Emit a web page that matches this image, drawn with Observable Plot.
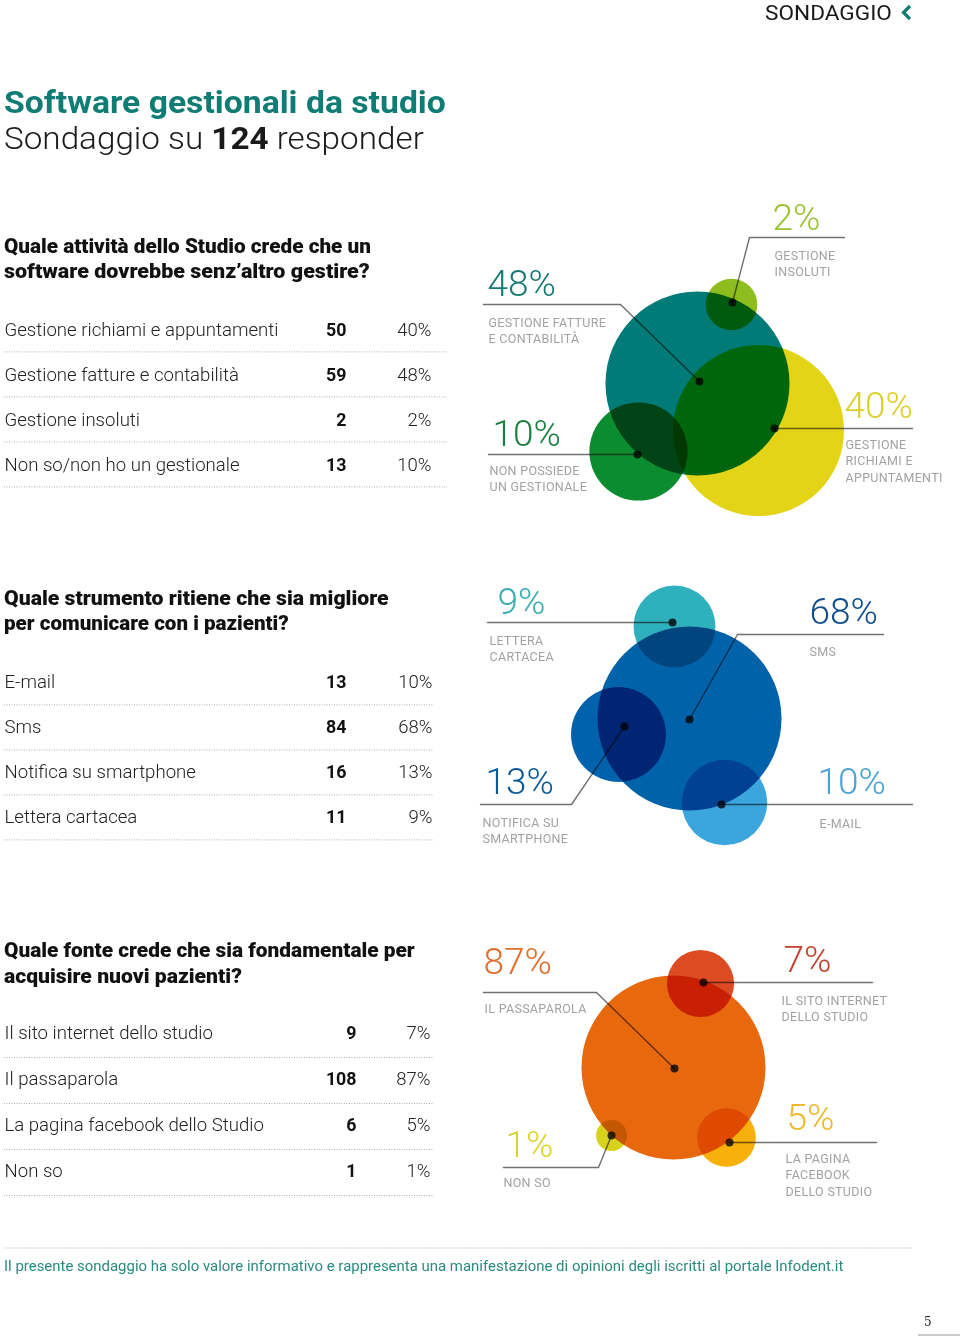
<!DOCTYPE html>
<html><head><meta charset="utf-8">
<script src="https://cdn.jsdelivr.net/npm/d3@7"></script>
<script src="https://cdn.jsdelivr.net/npm/@observablehq/plot@0.6"></script>
<style>
html,body{margin:0;padding:0;background:#fff;}
#page{position:relative;width:960px;height:1339px;overflow:hidden;font-family:Roboto,"Noto Sans",sans-serif;}
.box{position:absolute;}
.box svg{display:block;background:transparent;}
.bub g[aria-label="dot"] circle, .bub g[aria-label="line"] path{mix-blend-mode:multiply;}
.bub svg > g:last-child text{letter-spacing:0.3px;}
#overlay{position:absolute;left:0;top:0;}
</style></head><body><div id="page"></div>
<script>
// ---------------- DATA ----------------
const respondents = 124;
const title = "Software gestionali da studio";

const q1Question = ["Quale attività dello Studio crede che un", "software dovrebbe senz’altro gestire?"];
const q1Labels = ["Gestione richiami e appuntamenti", "Gestione fatture e contabilità", "Gestione insoluti", "Non so/non ho un gestionale"];
const q1Counts = [50, 59, 2, 13];
const q1Pcts = [40, 48, 2, 10];
const q1Tags = ["GESTIONE\nRICHIAMI E\nAPPUNTAMENTI", "GESTIONE FATTURE\nE CONTABILITÀ", "GESTIONE\nINSOLUTI", "NON POSSIEDE\nUN GESTIONALE"];

const q2Question = ["Quale strumento ritiene che sia migliore", "per comunicare con i pazienti?"];
const q2Labels = ["E-mail", "Sms", "Notifica su smartphone", "Lettera cartacea"];
const q2Counts = [13, 84, 16, 11];
const q2Pcts = [10, 68, 13, 9];
const q2Tags = ["E-MAIL", "SMS", "NOTIFICA SU\nSMARTPHONE", "LETTERA\nCARTACEA"];

const q3Question = ["Quale fonte crede che sia fondamentale per", "acquisire nuovi pazienti?"];
const q3Labels = ["Il sito internet dello studio", "Il passaparola", "La pagina facebook dello Studio", "Non so"];
const q3Counts = [9, 108, 6, 1];
const q3Pcts = [7, 87, 5, 1];
const q3Tags = ["IL SITO INTERNET\nDELLO STUDIO", "IL PASSAPAROLA", "LA PAGINA\nFACEBOOK\nDELLO STUDIO", "NON SO"];

const footnote = "Il presente sondaggio ha solo valore informativo e rappresenta una manifestazione di opinioni degli iscritti al portale Infodent.it";

// ---------------- STYLES ----------------
const q1Colors = ["#e4d418", "#007b78", "#8dbd1e", "#0b8c2e"];
const q1TextColors = ["#dcd02a", "#177a74", "#9cc232", "#198040"];
const q2Colors = ["#3aa6dc", "#0063aa", "#0062ad", "#2eb0bd"];
const q2TextColors = ["#4aa3d4", "#0f4d8c", "#0b5a97", "#3aaeb0"];
const q3Colors = ["#dd4b22", "#e8690d", "#f7b10a", "#d8d21c"];
const q3TextColors = ["#c2402d", "#e06d2a", "#eeb92c", "#d9d52e"];
const teal = "#0f7d74";

// ---------------- LAYOUT (page pixel coordinates) ----------------
// c: bubble centre, t: big % label (left, baseline), g: small tag (left, first baseline), p: leader polyline ending at pin
const q1Layout = [
  {c: [758, 430], t: [844, 417], g: [845, 446], p: [[912, 428], [774, 428]]},
  {c: [697, 383], t: [487, 295], g: [488, 324], p: [[483, 304], [620, 304], [699, 381]]},
  {c: [731, 304], t: [772, 229], g: [774, 257], p: [[844, 237], [749, 237], [732, 302]]},
  {c: [638, 451], t: [492, 445], g: [489, 472], p: [[488, 454], [637, 454]]}
];
const q2Layout = [
  {c: [724, 802], t: [817, 793], g: [819, 825], p: [[912, 804], [721, 804]]},
  {c: [689, 718], t: [809, 623], g: [809, 653], p: [[883, 634], [737, 634], [689, 719]]},
  {c: [618, 734], t: [485, 793], g: [482, 824], p: [[480, 804], [571, 804], [624, 726]]},
  {c: [674, 626], t: [497, 613], g: [489, 642], p: [[487, 622], [672, 622]]}
];
const q3Layout = [
  {c: [700, 983], t: [783, 971], g: [781, 1002], p: [[872, 982], [703, 982]]},
  {c: [673, 1067], t: [483, 973], g: [484, 1010], p: [[483, 992], [596, 992], [674, 1068]]},
  {c: [726, 1137], t: [786, 1129], g: [785, 1160], p: [[876, 1142], [729, 1142]]},
  {c: [611, 1135], t: [505, 1156], g: [503, 1184], p: [[503, 1167], [598, 1167], [611, 1135]]}
];

const page = d3.select("#page");

// ---------------- TABLES ----------------
function tablePlot(labels, counts, pcts, box) {
  const rows = labels.map((l, i) => ({label: l, count: counts[i], pct: pcts[i]}));
  const step = box.h / labels.length;
  return Plot.plot({
    width: box.w, height: box.h,
    marginLeft: 4, marginRight: 0, marginTop: 0, marginBottom: 0,
    style: {fontFamily: "Roboto", background: "transparent", overflow: "visible"},
    x: {type: "point", domain: ["count", "pct"], range: box.cols, padding: 0, axis: null},
    y: {type: "band", domain: labels, range: [0, box.h], padding: 0, axis: null},
    marks: [
      Plot.ruleY(labels, {y: d => d, dy: step / 2, stroke: "#a6a6a6", strokeWidth: 1, strokeDasharray: "0.9,1.6"}),
      Plot.text(rows, {y: "label", frameAnchor: "left", text: "label", textAnchor: "start", fontSize: 18.6, fontWeight: 300, fill: "#222", dy: box.dy}),
      Plot.text(rows, {x: () => "count", y: "label", text: d => String(d.count), textAnchor: "end", fontSize: 17.8, fontWeight: 700, fill: "#111", dy: box.dy}),
      Plot.text(rows, {x: () => "pct", y: "label", text: d => d.pct + "%", textAnchor: "end", fontSize: 18.5, fontWeight: 300, fill: "#222", dy: box.dy})
    ]
  });
}
function addBox(node, left, top, cls) {
  page.append("div").attr("class", "box " + (cls || "")).style("left", left + "px").style("top", top + "px").node().appendChild(node);
}
addBox(tablePlot(q1Labels, q1Counts, q1Pcts, {w: 447, h: 183, cols: [346, 431], dy: 1}), 0, 304);
addBox(tablePlot(q2Labels, q2Counts, q2Pcts, {w: 433, h: 183, cols: [346, 432], dy: 0}), 0, 657);
addBox(tablePlot(q3Labels, q3Counts, q3Pcts, {w: 433, h: 184, cols: [356, 430], dy: -1}), 0, 1011);

// ---------------- BUBBLES ----------------
function bubblePlot(labels, pcts, tags, colors, tcolors, layout, box) {
  const rows = labels.map((l, i) => ({label: l, pct: pcts[i], tag: tags[i], color: colors[i], tcolor: tcolors[i], L: layout[i]}));
  const leaders = rows.flatMap(r => r.L.p.map(([x, y]) => ({label: r.label, x, y})));
  const pins = rows.map(r => { const q = r.L.p[r.L.p.length - 1]; return {label: r.label, x: q[0], y: q[1]}; });
  const tagSize = 12.5;
  return Plot.plot({
    width: box.w, height: box.h, margin: 0,
    style: {fontFamily: "Roboto", background: "transparent", overflow: "visible"},
    x: {domain: [box.x0, box.x0 + box.w], range: [0, box.w], axis: null},
    y: {domain: [box.y0, box.y0 + box.h], range: [0, box.h], axis: null},
    r: {type: "pow", exponent: 0.4, domain: [0, d3.max(pcts)], range: [0, 92]},
    color: {type: "identity"},
    marks: [
      Plot.dot(rows, {x: d => d.L.c[0], y: d => d.L.c[1], r: "pct", fill: d => d.color, stroke: null, mixBlendMode: "multiply"}),
      Plot.line(leaders, {x: "x", y: "y", z: "label", stroke: "#707070", strokeWidth: 1.4, curve: "linear", mixBlendMode: "multiply"}),
      Plot.dot(pins, {x: "x", y: "y", r: 4, fill: "#3c3c3c", stroke: null, mixBlendMode: "multiply"}),
      Plot.text(rows, {x: d => d.L.t[0], y: d => d.L.t[1], text: d => d.pct + "%", fill: d => d.tcolor, fontSize: 37, fontWeight: 300, textAnchor: "start", lineAnchor: "bottom"}),
      Plot.text(rows, {x: d => d.L.g[0], y: d => d.L.g[1], text: "tag", fill: "#a2a2a2", fontSize: tagSize, fontWeight: 400, textAnchor: "start", lineAnchor: "top", lineHeight: 1.3, dy: -0.71 * tagSize})
    ]
  });
}
addBox(bubblePlot(q1Labels, q1Pcts, q1Tags, q1Colors, q1TextColors, q1Layout, {x0: 470, y0: 180, w: 490, h: 330}), 470, 180, "bub");
addBox(bubblePlot(q2Labels, q2Pcts, q2Tags, q2Colors, q2TextColors, q2Layout, {x0: 470, y0: 570, w: 490, h: 290}), 470, 570, "bub");
addBox(bubblePlot(q3Labels, q3Pcts, q3Tags, q3Colors, q3TextColors, q3Layout, {x0: 470, y0: 920, w: 490, h: 290}), 470, 920, "bub");

// ---------------- TITLES, QUESTIONS, FOOTER ----------------
const svg = page.append("svg").attr("id", "overlay").attr("width", 960).attr("height", 1339)
  .style("font-family", "Roboto, 'Noto Sans', sans-serif");

function fit(sel, target) {
  const len = sel.node().getComputedTextLength();
  const x = +sel.attr("x"), y = +sel.attr("y");
  sel.attr("x", 0).attr("y", 0).attr("transform", `translate(${x},${y}) scale(${target / len},1)`);
  return sel;
}
function label(str, x, y, size, weight, color, target) {
  const t = svg.append("text").attr("x", x).attr("y", y).attr("font-size", size).attr("font-weight", weight).attr("fill", color).text(str);
  if (target) fit(t, target);
  return t;
}

// header
label("SONDAGGIO", 765, 20, 20, 400, "#1a1a1a", 127);
svg.append("path").attr("d", "M910,6 L903.5,12.5 L910,19").attr("fill", "none").attr("stroke", teal).attr("stroke-width", 3.2);

// title + subtitle
label(title, 4, 113, 31, 700, teal, 442);
{
  const t = svg.append("text").attr("x", 4).attr("y", 149).attr("font-size", 31).attr("font-weight", 300).attr("fill", "#1a1a1a");
  t.append("tspan").text("Sondaggio su ");
  t.append("tspan").attr("font-weight", 700).text(String(respondents));
  t.append("tspan").text(" responder");
  fit(t, 420);
}

// questions
const qs = [
  {lines: q1Question, y: [253, 278], w: [367, 366]},
  {lines: q2Question, y: [605, 630], w: [385, 285]},
  {lines: q3Question, y: [957, 983], w: [411, 238]}
];
qs.forEach(q => q.lines.forEach((s, i) => label(s, 4, q.y[i], 20, 900, "#111", q.w[i])));

// footer
svg.append("line").attr("x1", 4).attr("x2", 912).attr("y1", 1248).attr("y2", 1248)
  .attr("stroke", "#aaa").attr("stroke-dasharray", "0.9,1.6");
label(footnote, 4, 1271, 14.5, 400, "#2a8a80", 840);
svg.append("text").attr("x", 924).attr("y", 1326).attr("font-size", 12).attr("font-family", "'DejaVu Serif', serif").attr("fill", "#222").text("5");
svg.append("line").attr("x1", 918).attr("x2", 960).attr("y1", 1335).attr("y2", 1335).attr("stroke", "#999");
</script>
</body></html>
